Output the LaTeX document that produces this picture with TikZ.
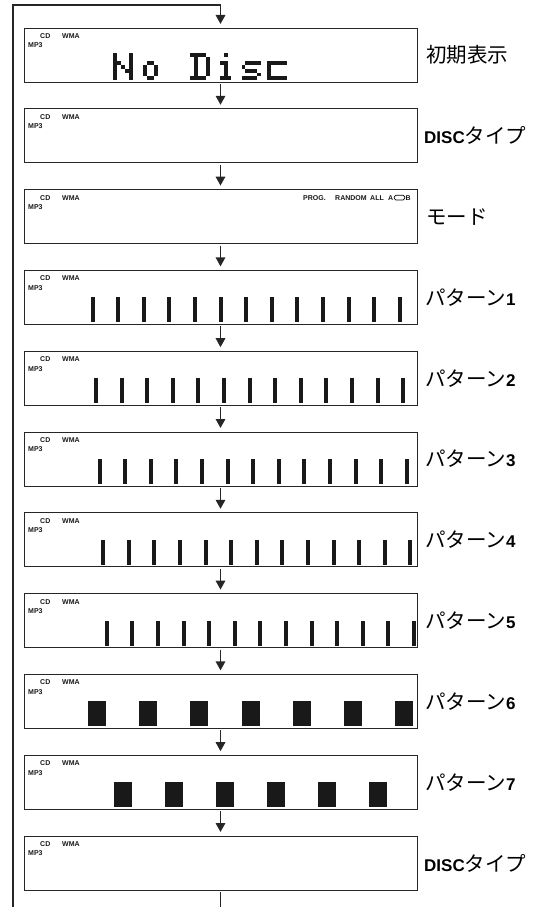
\documentclass[tikz,border=0pt]{standalone}
\usepackage{fontspec}
\newfontfamily\jpfont{Noto Sans CJK JP}
\newfontfamily\lsans{Liberation Sans}
\usetikzlibrary{arrows.meta,calc}
\newcommand\latb{\lsans\bfseries\fontsize{17}{20}\selectfont}
\newcommand\lcdglyph[2]{\foreach \c/\r in {#2} {\fill[seg] ({#1+3.9*\c},{53+3.9*\r}) rectangle ++(3.95,3.95);}}
\begin{document}
\begin{tikzpicture}[x=1pt,y=-1pt,
  lcd/.style={draw=black!85,line width=0.9pt,minimum width=393pt,minimum height=54pt,inner sep=0,outer sep=0,fill=white},
  tiny/.style={font=\lsans\bfseries\fontsize{7}{7}\selectfont,inner sep=0,anchor=west,text=black!90},
  lbl/.style={anchor=west,inner sep=0,font=\jpfont\fontsize{20.5}{22}\selectfont},
  flow/.style={line width=1.6pt,draw=black!85},
  arr/.style={flow,-{Triangle[width=9.5pt,length=9pt]}},
  seg/.style={fill=black!90}
]
\useasboundingbox (0,0) rectangle (546,907);
% boxes
\foreach \k in {1,...,11} {
  \pgfmathsetmacro\t{28+80.8*(\k-1)}
  \node[lcd] (b\k) at (220.5,\t+27) {};
  \node[tiny] (cd\k) at ([shift={(16,8)}]b\k.north west) {CD};
  \node[tiny] (wma\k) at ([shift={(38,8)}]b\k.north west) {WMA};
  \node[tiny] (mp\k) at ([shift={(4,17.5)}]b\k.north west) {MP3};
}
% labels
\node[lbl] (l1) at ([xshift=9pt]b1.east) {初期表示};
\node[lbl] (l2) at ([xshift=7pt]b2.east) {{\latb DISC}タイプ};
\node[lbl] (l3) at ([xshift=9pt]b3.east) {モード};
\foreach \k [evaluate=\k as \n using int(\k-3)] in {4,...,10} {
  \node[lbl] (l\k) at ([xshift=8pt]b\k.east) {パターン{\latb\n}};
}
\node[lbl] (l11) at ([xshift=7pt]b11.east) {{\latb DISC}タイプ};
% connectors
\coordinate (lb) at (13,907);
\coordinate (lt) at (13,5);
\coordinate (tr) at (220.5,5);
\coordinate (bend) at (220.5,907);
\draw[arr] (lb) -- (lt) -- (tr) -- ([yshift=4pt]b1.north);
\foreach \k [evaluate=\k as \n using int(\k+1)] in {1,...,10} {
  \draw[arr] ([yshift=-2pt]b\k.south) -- ([yshift=4pt]b\n.north);
}
\draw[flow] ([yshift=-2pt]b11.south) -- (bend);
% No Disc dot matrix
\lcdglyph{113}{0/0,0/1,0/2,0/3,0/4,0/5,0/6,4/0,4/1,4/2,4/3,4/4,4/5,4/6,1/2,2/3,3/4}
\lcdglyph{138.7}{2/2,3/2,1/3,4/3,1/4,4/4,1/5,4/5,2/6,3/6}
\lcdglyph{190.1}{0/0,1/0,2/0,3/0,1/1,4/1,1/2,4/2,1/3,4/3,1/4,4/4,1/5,4/5,0/6,1/6,2/6,3/6}
\lcdglyph{215.8}{2/0,1/2,2/2,2/3,2/4,2/5,1/6,2/6,3/6}
\lcdglyph{241.5}{1/2,2/2,3/2,4/2,0/3,1/4,2/4,3/4,4/5,0/6,1/6,2/6,3/6}
\lcdglyph{267.2}{0/2,1/2,2/2,3/2,4/2,0/3,0/4,0/5,0/6,1/6,2/6,3/6,4/6}
% mode indicators
\node[tiny] (prog) at ([shift={(279,8)}]b3.north west) {PROG.};
\node[tiny] (rand) at ([shift={(311,8)}]b3.north west) {RANDOM};
\node[tiny] (all) at ([shift={(346,8)}]b3.north west) {ALL};
\node[tiny] (ra) at ([shift={(364,8)}]b3.north west) {A};
\node[tiny] (rb) at ([shift={(381.5,8)}]b3.north west) {B};
\draw[line width=0.7pt,rounded corners=1.6pt] ([shift={(0.8,-2.3)}]ra.east) rectangle ([shift={(-0.8,2.3)}]rb.west);
% bar patterns 1-5
\foreach \k in {1,...,5} {
  \pgfmathsetmacro\t{28+80.8*(\k+2)}
  \foreach \j in {0,...,12} {
    \fill[seg] ({90.5+3.55*(\k-1)+25.6*\j},\t+27) rectangle ++(4,25);
  }
}
% block patterns 6-7
\pgfmathsetmacro\tsix{28+80.8*8}
\foreach \j in {0,...,6} {\fill[seg] ({88.2+51.1*\j},\tsix+27) rectangle ++(18,25);}
\pgfmathsetmacro\tsev{28+80.8*9}
\foreach \j in {0,...,5} {\fill[seg] ({113.7+51.1*\j},\tsev+27) rectangle ++(18,25);}
\end{tikzpicture}
\end{document}
